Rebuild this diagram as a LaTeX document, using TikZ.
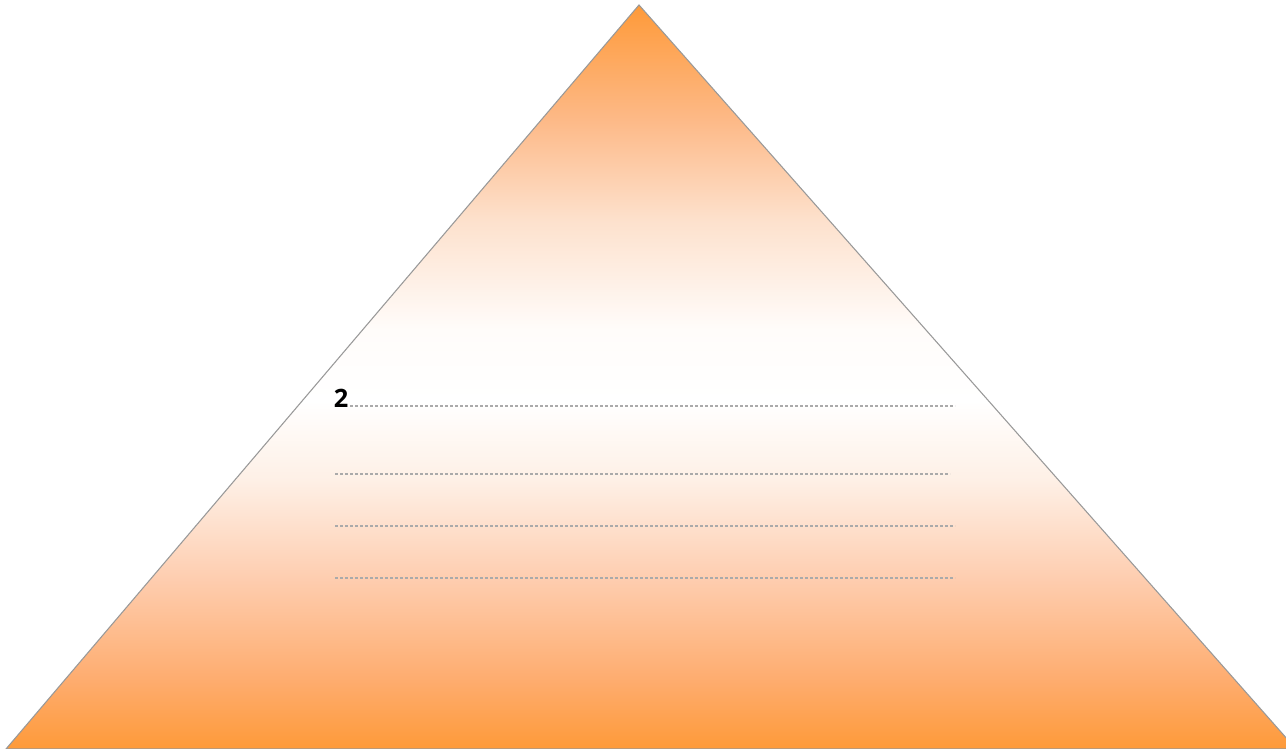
\documentclass[tikz,border=0pt]{standalone}
\usepackage{fontspec}
\setmainfont{Open Sans}
\definecolor{og}{RGB}{254,154,57}
\definecolor{oa}{RGB}{254,172,110}
\definecolor{ob}{RGB}{254,205,175}
\definecolor{oc}{RGB}{254,240,230}
\definecolor{od}{RGB}{255,252,250}
\definecolor{oe}{RGB}{253,225,205}
\definecolor{of}{RGB}{253,185,135}
\definecolor{dotgray}{RGB}{170,170,170}
\pgfdeclareverticalshading{pyr}{100bp}{color(0bp)=(og); color(25bp)=(og); color(29.6bp)=(oa); color(36.4bp)=(ob); color(43.1bp)=(oc); color(48.4bp)=(white); color(53.2bp)=(od); color(60.5bp)=(oe); color(67.3bp)=(of); color(75bp)=(og); color(100bp)=(og)}
\begin{document}
\begin{tikzpicture}[x=0.75pt,y=-0.75pt,
  dotline/.style={draw=dotgray, line width=2.1pt, line cap=butt, dash pattern=on 2pt off 1.75pt},
  numlabel/.style={font=\bfseries\fontsize{19}{23}\selectfont, inner sep=0pt, text=black}]
\useasboundingbox (0,0) rectangle (1286,749);
\begin{scope}
\clip (0,0) rectangle (1286,749);
\coordinate (apex) at (639,5);
\coordinate (bl) at (6,749);
\coordinate (br) at (1296,749);
\shade[shading=pyr, draw=black!40, line width=0.8pt]
  (apex) -- (br) -- (bl) -- cycle;
\end{scope}
\node[numlabel] (n2) at (341,398) {2};
\coordinate (l1a) at (350,406); \coordinate (l1b) at (955,406);
\coordinate (l2a) at (335,474); \coordinate (l2b) at (950,474);
\coordinate (l3a) at (335,526); \coordinate (l3b) at (955,526);
\coordinate (l4a) at (335,578); \coordinate (l4b) at (955,578);
\draw[dotline] (l1a) -- (l1b);
\draw[dotline] (l2a) -- (l2b);
\draw[dotline] (l3a) -- (l3b);
\draw[dotline] (l4a) -- (l4b);
\end{tikzpicture}
\end{document}
